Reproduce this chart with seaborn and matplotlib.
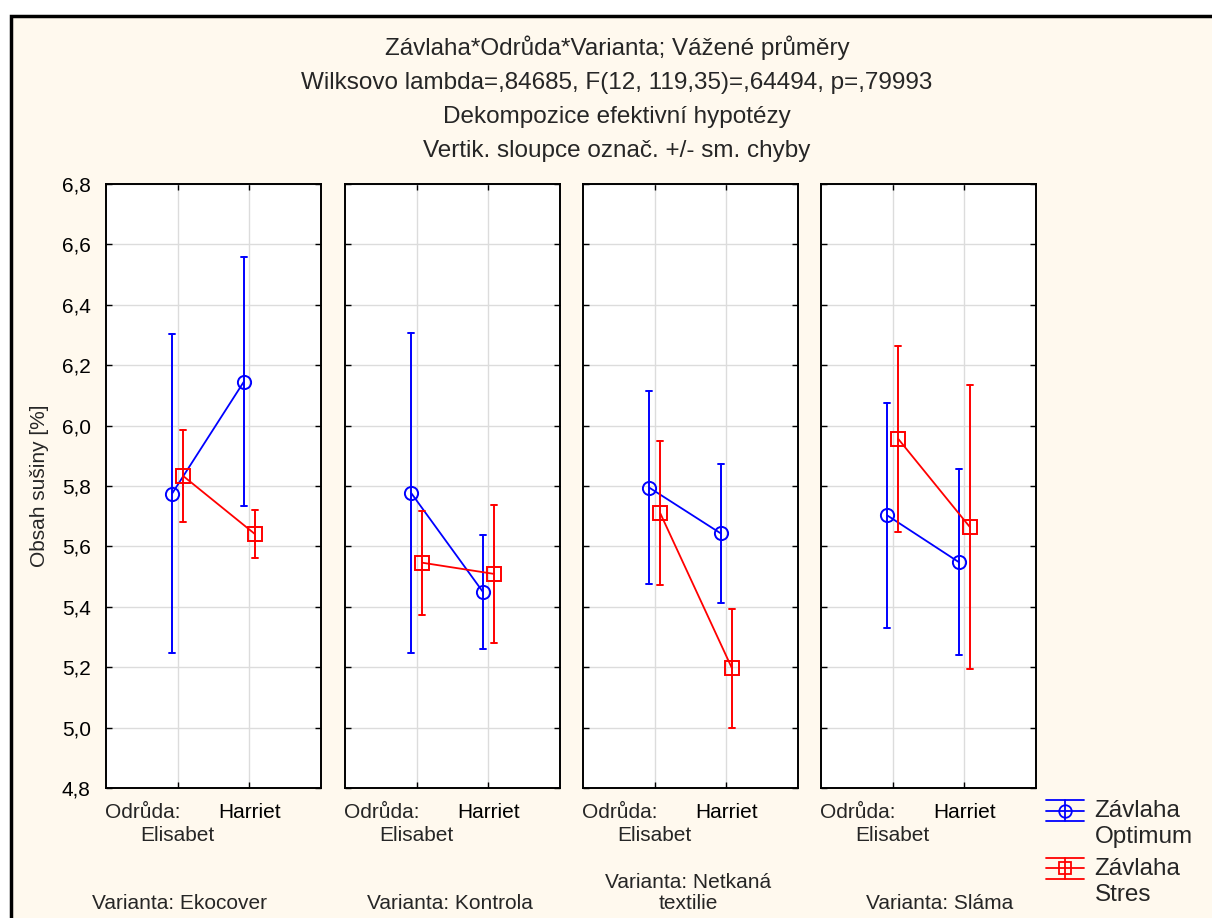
import numpy as np
import pandas as pd
import matplotlib.pyplot as plt
import matplotlib.ticker as mticker
import matplotlib.transforms as mtrans
from matplotlib.lines import Line2D
from matplotlib.legend_handler import HandlerBase
from matplotlib.patches import Rectangle
import seaborn as sns

# Data: průměr a směrodatná chyba
varianty = ["Ekocover", "Kontrola", "Netkaná\ntextilie", "Sláma"]
odrudy = ["Elisabet", "Harriet"]
zavlaha = ["Optimum", "Stres"]

# řádky = varianta, sloupce = odrůda (Elisabet, Harriet)
opt_mean = [[5.775, 6.145], [5.777, 5.450], [5.795, 5.643], [5.703, 5.548]]
opt_se = [[0.527, 0.412], [0.530, 0.189], [0.319, 0.230], [0.373, 0.308]]
str_mean = [[5.833, 5.641], [5.546, 5.509], [5.710, 5.197], [5.956, 5.664]]
str_se = [[0.152, 0.078], [0.172, 0.228], [0.238, 0.197], [0.309, 0.469]]

y_ticks = [4.8, 5.0, 5.2, 5.4, 5.6, 5.8, 6.0, 6.2, 6.4, 6.6, 6.8]

title_lines = [
    "Závlaha*Odrůda*Varianta; Vážené průměry",
    "Wilksovo lambda=,84685, F(12, 119,35)=,64494, p=,79993",
    "Dekompozice efektivní hypotézy",
    "Vertik. sloupce označ. +/- sm. chyby",
]

# long table: each group gets mean-se and mean+se, so mean = estimate, min/max = error bar
rows = []
for vi, var in enumerate(varianty):
    for oi, odr in enumerate(odrudy):
        for zv, means, ses in [("Optimum", opt_mean, opt_se), ("Stres", str_mean, str_se)]:
            m, s = means[vi][oi], ses[vi][oi]
            rows.append({"Varianta": var, "Odrůda": odr, "Závlaha": zv, "val": m - s})
            rows.append({"Varianta": var, "Odrůda": odr, "Závlaha": zv, "val": m + s})
df = pd.DataFrame(rows)

sns.set_style("ticks")
plt.rcParams["font.family"] = ["Liberation Sans", "DejaVu Sans"]

cream = "#FFF9EE"
palette = {"Optimum": "#0000FF", "Stres": "#FF0000"}

fig = plt.figure(figsize=(12.12, 9.18), dpi=100, facecolor="white")
fig.patches.append(Rectangle((11 / 1212, -0.1), 1.2, 1.1 - 16 / 918, transform=fig.transFigure,
                             facecolor=cream, edgecolor="black", lw=2.5, zorder=-10))

W, H = 1212, 918
lefts = [106, 345, 583, 821]
pw, top, bot = 215, 184, 788
label_x = [0.34, 0.49, 0.49, 0.55]

for i, var in enumerate(varianty):
    ax = fig.add_axes([lefts[i] / W, 1 - bot / H, pw / W, (bot - top) / H])
    ax.set_facecolor("white")
    sub = df[df["Varianta"] == var]
    sns.pointplot(data=sub, x="Odrůda", y="val", hue="Závlaha",
                  order=odrudy, hue_order=zavlaha, palette=palette,
                  markers=["o", "s"], dodge=0.155, estimator="mean",
                  errorbar=lambda v: (v.min(), v.max()), capsize=0.09,
                  err_kws={"linewidth": 1.4}, linewidth=1.3, markersize=9.5,
                  markerfacecolor="none", markeredgewidth=1.4, legend=False, ax=ax)
    ax.set_xlim(-1, 2)
    ax.set_ylim(4.8, 6.8)
    ax.set_yticks(y_ticks)
    ax.yaxis.set_major_formatter(mticker.FuncFormatter(lambda v, p: f"{v:.1f}".replace(".", ",")))
    ax.grid(True, color="#DCDCDC", lw=1)
    ax.set_axisbelow(True)
    ax.set_xticks([0, 1])
    ax.set_xticklabels(["", odrudy[1]])
    ax.tick_params(direction="in", length=4, width=1, top=True, right=True,
                   labelsize=15, pad=11, colors="black")
    if i > 0:
        ax.tick_params(labelleft=False)
    ax.set_xlabel("")
    ax.set_ylabel("")
    for sp in ax.spines.values():
        sp.set_visible(True)
        sp.set_color("black")
        sp.set_linewidth(1.4)
    # Statistica style: factor name on the first line, first level one line lower
    ax.annotate("Odrůda:", xy=(0.04, 0), xycoords=("data", "axes fraction"),
                xytext=(0, -11), textcoords="offset points", ha="right", va="top", fontsize=15)
    ax.annotate(odrudy[0], xy=(0, 0), xycoords=("data", "axes fraction"),
                xytext=(0, -27.5), textcoords="offset points", ha="center", va="top", fontsize=15)
    tr = mtrans.blended_transform_factory(ax.transAxes, fig.transFigure)
    ax.text(label_x[i], 1 - 909 / H, "Varianta: " + var, transform=tr,
            ha="center", va="baseline", fontsize=15, linespacing=1.15)

fig.text(40 / W, 1 - 486 / H, "Obsah sušiny [%]", rotation=90, ha="center", va="center", fontsize=15)

for k, line in enumerate(title_lines):
    fig.text(617 / W, 1 - (55 + 34 * k) / H, line, ha="center", va="baseline", fontsize=17.5)


class StatHandler(HandlerBase):
    # Statistica legend icon: line + marker framed by two horizontal error caps
    def create_artists(self, legend, orig, xd, yd, w, h, fs, trans):
        c = orig.get_color()
        yc = h * 1.3 - yd
        half = 0.45 * fs
        xm = w / 2 - xd
        arts = [
            Line2D([-xd, w - xd], [yc, yc], color=c, lw=1.3),
            Line2D([-xd, w - xd], [yc + half] * 2, color=c, lw=1.3),
            Line2D([-xd, w - xd], [yc - half] * 2, color=c, lw=1.3),
            Line2D([xm, xm], [yc - half, yc + half], color=c, lw=1.3),
            Line2D([xm], [yc], marker=orig.get_marker(), mfc="none", mec=c, mew=1.3, ms=9),
        ]
        for a in arts:
            a.set_transform(trans)
        return arts


handles = [Line2D([], [], color=palette[z], marker=m) for z, m in zip(zavlaha, ["o", "s"])]
labels = ["Závlaha\n" + z for z in zavlaha]
leg = fig.legend(handles, labels, handler_map={Line2D: StatHandler()}, loc="upper left",
                 bbox_to_anchor=(1046 / W, 1 - 800 / H), frameon=False, fontsize=17.5,
                 handlelength=1.55, handletextpad=0.45, labelspacing=0.4, borderpad=0,
                 borderaxespad=0)
for t in leg.get_texts():
    t.set_linespacing(1.25)

fig.savefig("out.png", dpi=100, facecolor="white")
